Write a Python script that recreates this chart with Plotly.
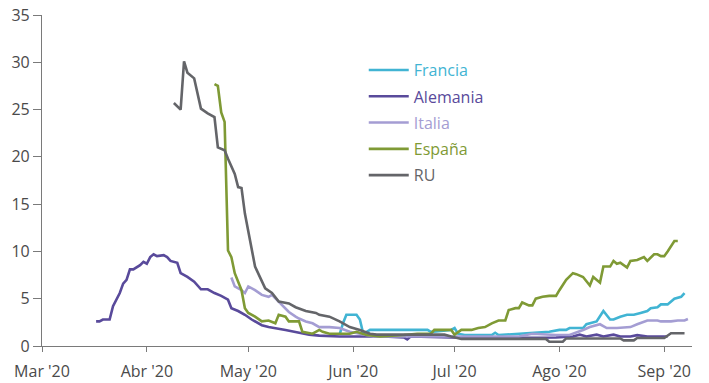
import plotly.graph_objects as go

# Daily series (values read per date)
francia_dates = ["2020-05-28", "2020-05-29", "2020-05-30", "2020-06-02", "2020-06-03", "2020-06-04",
                 "2020-06-05", "2020-06-06", "2020-06-23", "2020-06-24", "2020-06-30", "2020-07-01",
                 "2020-07-02", "2020-07-04", "2020-07-12", "2020-07-13", "2020-07-14", "2020-07-22",
                 "2020-07-29", "2020-08-01", "2020-08-03", "2020-08-04", "2020-08-08", "2020-08-09",
                 "2020-08-12", "2020-08-14", "2020-08-16", "2020-08-17", "2020-08-19", "2020-08-21",
                 "2020-08-23", "2020-08-25", "2020-08-27", "2020-08-28", "2020-08-30", "2020-08-31",
                 "2020-09-02", "2020-09-04", "2020-09-06", "2020-09-07"]
francia_vals = [1.2, 2.4, 3.3, 3.3, 2.8, 1.3,
                1.5, 1.7, 1.7, 1.5, 1.7, 1.9,
                1.3, 1.16, 1.16, 1.4, 1.16, 1.3,
                1.5, 1.7, 1.7, 1.9, 1.9, 2.3,
                2.6, 3.7, 2.8, 2.8, 3.1, 3.3,
                3.3, 3.5, 3.7, 4.0, 4.1, 4.4,
                4.4, 5.0, 5.2, 5.6]

alemania_dates = ["2020-03-17", "2020-03-18", "2020-03-19", "2020-03-21", "2020-03-22", "2020-03-23",
                  "2020-03-24", "2020-03-25", "2020-03-26", "2020-03-27", "2020-03-28", "2020-03-30",
                  "2020-03-31", "2020-04-01", "2020-04-02", "2020-04-03", "2020-04-04", "2020-04-06",
                  "2020-04-07", "2020-04-08", "2020-04-10", "2020-04-11", "2020-04-13", "2020-04-15",
                  "2020-04-17", "2020-04-19", "2020-04-21", "2020-04-23", "2020-04-25", "2020-04-26",
                  "2020-04-28", "2020-04-30", "2020-05-02", "2020-05-05", "2020-05-07", "2020-05-12",
                  "2020-05-16", "2020-05-19", "2020-05-22", "2020-05-28", "2020-06-10", "2020-06-16",
                  "2020-06-17", "2020-06-18", "2020-06-30", "2020-07-15", "2020-07-31", "2020-08-05",
                  "2020-08-07", "2020-08-09", "2020-08-12", "2020-08-14", "2020-08-17", "2020-08-19",
                  "2020-08-22", "2020-08-24", "2020-08-27", "2020-09-02"]
alemania_vals = [2.6, 2.6, 2.8, 2.8, 4.2, 4.9,
                 5.6, 6.6, 7.0, 8.1, 8.1, 8.55,
                 8.9, 8.7, 9.4, 9.7, 9.5, 9.6,
                 9.4, 9.0, 8.8, 7.7, 7.3, 6.8,
                 6.0, 6.0, 5.6, 5.3, 4.9, 4.0,
                 3.7, 3.3, 2.8, 2.2, 2.0, 1.7,
                 1.4, 1.2, 1.1, 1.0, 1.0, 0.9,
                 0.7, 1.0, 0.9, 0.85, 0.9, 1.0,
                 1.2, 1.0, 1.2, 1.0, 1.2, 1.0,
                 1.0, 1.15, 1.0, 1.0]

italia_dates = ["2020-04-26", "2020-04-27", "2020-04-29", "2020-04-30", "2020-05-01", "2020-05-03",
                "2020-05-05", "2020-05-07", "2020-05-08", "2020-05-10", "2020-05-11", "2020-05-13",
                "2020-05-15", "2020-05-16", "2020-05-18", "2020-05-20", "2020-05-22", "2020-05-25",
                "2020-05-28", "2020-05-31", "2020-06-03", "2020-06-07", "2020-07-20", "2020-07-24",
                "2020-07-31", "2020-08-04", "2020-08-08", "2020-08-10", "2020-08-13", "2020-08-15",
                "2020-08-18", "2020-08-22", "2020-08-24", "2020-08-27", "2020-08-30", "2020-08-31",
                "2020-09-03", "2020-09-05", "2020-09-07", "2020-09-08"]
italia_vals = [7.25, 6.3, 5.9, 5.6, 6.3, 5.9,
               5.4, 5.2, 5.4, 4.7, 4.3, 3.6,
               3.1, 2.9, 2.6, 2.4, 2.0, 2.0,
               1.9, 1.5, 1.3, 1.0, 1.0, 1.3,
               1.16, 1.16, 1.7, 2.0, 2.3, 1.9,
               1.9, 2.0, 2.3, 2.7, 2.7, 2.6,
               2.6, 2.7, 2.7, 2.85]

espana_dates = ["2020-04-21", "2020-04-22", "2020-04-23", "2020-04-24", "2020-04-25", "2020-04-26",
                "2020-04-27", "2020-04-29", "2020-04-30", "2020-05-01", "2020-05-03", "2020-05-05",
                "2020-05-07", "2020-05-09", "2020-05-10", "2020-05-12", "2020-05-13", "2020-05-16",
                "2020-05-17", "2020-05-20", "2020-05-22", "2020-05-23", "2020-05-25", "2020-05-31",
                "2020-06-02", "2020-06-05", "2020-06-09", "2020-06-12", "2020-06-16", "2020-06-20",
                "2020-06-24", "2020-06-25", "2020-06-30", "2020-07-01", "2020-07-03", "2020-07-06",
                "2020-07-08", "2020-07-10", "2020-07-12", "2020-07-14", "2020-07-16", "2020-07-17",
                "2020-07-19", "2020-07-20", "2020-07-21", "2020-07-23", "2020-07-24", "2020-07-25",
                "2020-07-27", "2020-07-29", "2020-07-31", "2020-08-01", "2020-08-03", "2020-08-05",
                "2020-08-06", "2020-08-08", "2020-08-10", "2020-08-11", "2020-08-13", "2020-08-14",
                "2020-08-16", "2020-08-17", "2020-08-18", "2020-08-19", "2020-08-21", "2020-08-22",
                "2020-08-24", "2020-08-26", "2020-08-27", "2020-08-29", "2020-08-30", "2020-08-31",
                "2020-09-01", "2020-09-02", "2020-09-04", "2020-09-05"]
espana_vals = [27.7, 27.5, 24.7, 23.7, 10.1, 9.4,
               7.7, 5.9, 4.0, 3.5, 3.1, 2.6,
               2.7, 2.4, 3.3, 3.1, 2.6, 2.6,
               1.5, 1.3, 1.7, 1.5, 1.3, 1.3,
               1.5, 1.16, 1.0, 1.06, 1.16, 1.3,
               1.3, 1.7, 1.7, 1.2, 1.7, 1.7,
               1.9, 2.0, 2.4, 2.7, 2.7, 3.8,
               4.0, 4.0, 4.6, 4.3, 4.3, 5.0,
               5.2, 5.3, 5.3, 5.9, 7.0, 7.7,
               7.6, 7.3, 6.4, 7.3, 6.7, 8.4,
               8.4, 9.0, 8.7, 8.8, 8.3, 9.0,
               9.1, 9.4, 9.0, 9.7, 9.7, 9.5,
               9.5, 10.0, 11.1, 11.1]

ru_dates = ["2020-04-09", "2020-04-11", "2020-04-12", "2020-04-13", "2020-04-15", "2020-04-17",
            "2020-04-19", "2020-04-21", "2020-04-22", "2020-04-24", "2020-04-25", "2020-04-27",
            "2020-04-28", "2020-04-29", "2020-04-30", "2020-05-02", "2020-05-03", "2020-05-06",
            "2020-05-08", "2020-05-10", "2020-05-13", "2020-05-15", "2020-05-18", "2020-05-21",
            "2020-05-22", "2020-05-25", "2020-05-28", "2020-05-31", "2020-06-03", "2020-06-06",
            "2020-06-08", "2020-06-11", "2020-06-28", "2020-06-30", "2020-07-03", "2020-07-28",
            "2020-07-29", "2020-08-02", "2020-08-03", "2020-08-19", "2020-08-20", "2020-08-23",
            "2020-08-24", "2020-09-01", "2020-09-02", "2020-09-03", "2020-09-07"]
ru_vals = [25.7, 25.0, 30.1, 28.9, 28.3, 25.1,
           24.6, 24.2, 21.0, 20.7, 19.8, 18.2,
           16.8, 16.7, 14.0, 10.3, 8.4, 6.1,
           5.6, 4.7, 4.5, 4.1, 3.7, 3.5,
           3.3, 3.1, 2.6, 2.0, 1.7, 1.3,
           1.2, 1.2, 1.2, 1.0, 0.75, 0.75,
           0.45, 0.45, 0.8, 0.8, 0.6, 0.6,
           0.85, 0.85, 1.1, 1.35, 1.35]

month_ticks = ["2020-03-01", "2020-04-01", "2020-05-01", "2020-06-01",
               "2020-07-01", "2020-08-01", "2020-09-01"]
month_labels = ["Mar '20", "Abr '20", "May '20", "Jun '20", "Jul '20", "Ago '20", "Sep '20"]

series = [
    ("Francia", francia_dates, francia_vals, "#41b4d3"),
    ("Alemania", alemania_dates, alemania_vals, "#594a9b"),
    ("Italia", italia_dates, italia_vals, "#a49dd3"),
    ("España", espana_dates, espana_vals, "#7f9a35"),
    ("RU", ru_dates, ru_vals, "#646569"),
]

FONT = "Open Sans, Lato, sans-serif"

fig = go.Figure()
for rank, (name, xs, ys, color) in enumerate(series):
    fig.add_trace(go.Scatter(
        x=xs, y=ys, mode="lines", name=f"<span style='color:{color}'>{name}</span>",
        line=dict(color=color, width=2.6), legendgroup=name, legendrank=rank + 1,
        hoverinfo="skip",
    ))

fig.update_layout(
    width=709, height=383,
    margin=dict(l=42, r=17, t=15, b=37, autoexpand=False),
    paper_bgcolor="white", plot_bgcolor="white",
    font=dict(family=FONT, size=16, color="#4a4a4a"),
    showlegend=True,
    legend=dict(
        x=0.495, y=0.885, xanchor="left", yanchor="top",
        bgcolor="rgba(0,0,0,0)", borderwidth=0,
        font=dict(family=FONT, size=16),
        tracegroupgap=2.5, itemwidth=40, traceorder="grouped",
    ),
    xaxis=dict(
        type="date", range=["2020-03-01", "2020-09-09 05:00"],
        tickvals=month_ticks, ticktext=month_labels,
        showgrid=False, zeroline=False, automargin=False,
        showline=True, linecolor="#7a7a7a", linewidth=1.2,
        ticks="outside", ticklen=5, tickcolor="#7a7a7a", tickwidth=1.2,
        ticklabelstandoff=6,
        tickfont=dict(family=FONT, size=16, color="#4a4a4a"),
    ),
    yaxis=dict(
        range=[0, 35], dtick=5, tick0=0,
        showgrid=False, zeroline=False, automargin=False,
        showline=True, linecolor="#7a7a7a", linewidth=1.2,
        ticks="outside", ticklen=8, tickcolor="#7a7a7a", tickwidth=1.2,
        tickfont=dict(family=FONT, size=16, color="#4a4a4a"),
    ),
)

fig.write_html("out.html")
